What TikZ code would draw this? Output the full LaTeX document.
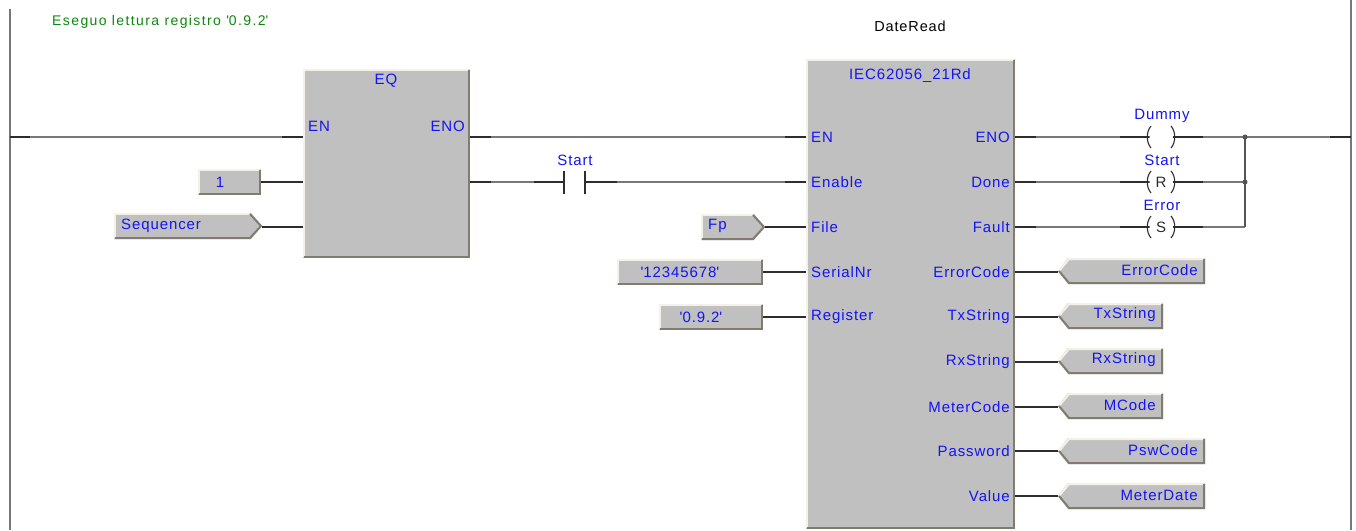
\documentclass[tikz,border=0pt]{standalone}
\usepackage{fontspec}
\setmainfont{Liberation Sans}
\newfontfamily\lblfont[LetterSpace=6]{Liberation Sans}
\newfontfamily\cmtfont[LetterSpace=10]{Liberation Sans}
\definecolor{blockgray}{RGB}{192,192,192}
\definecolor{hilite}{RGB}{244,242,232}
\definecolor{shadeclr}{RGB}{128,124,112}
\definecolor{wire}{RGB}{120,120,120}
\definecolor{wiredark}{RGB}{45,45,45}
\definecolor{lblue}{RGB}{20,20,245}
\definecolor{cmt}{RGB}{15,135,15}
\tikzset{x=1pt,y=-1pt,
 lab/.style={font=\lblfont\fontsize{15}{17}\selectfont,text=lblue,inner sep=0pt},
 cmtlab/.style={font=\cmtfont\fontsize{14}{16}\selectfont,text=cmt,inner sep=0pt,anchor=west},
 blk/.style={font=\lblfont\fontsize{15}{17}\selectfont,text=lblue,inner sep=0pt},
 wirel/.style={draw=wire,line width=1.4pt},
 stub/.style={draw=wiredark,line width=1.3pt},
 rail/.style={draw=wire,line width=1.4pt},
 coilarc/.style={draw=wiredark,line width=1.1pt},
 dotn/.style={circle,fill=wire!70!black,inner sep=0pt,minimum size=5pt},
 coilchar/.style={font=\lblfont\fontsize{15}{17}\selectfont,text=wiredark,inner sep=0pt},
}
\newcommand{\bevelbox}[4]{% x1 y1 x2 y2
 \fill[blockgray] (#1,#2) rectangle (#3,#4);
 \draw[hilite,line width=2pt] (#1+1,#4-1) -- (#1+1,#2+1) -- (#3-1,#2+1);
 \draw[shadeclr,line width=2pt] (#1+1,#4-1) -- (#3-1,#4-1) -- (#3-1,#2+1);
}
\newcommand{\invar}[3]{% x1 tipx yc, right-pointing
 \fill[blockgray] (#1,#3-13) -- (#2-11,#3-13) -- (#2,#3) -- (#2-11,#3+13) -- (#1,#3+13) -- cycle;
 \draw[hilite,line width=2pt] (#1+1,#3+12) -- (#1+1,#3-12) -- (#2-12,#3-12);
 \draw[shadeclr,line width=2pt] (#1+1,#3+12) -- (#2-12,#3+12) -- (#2-1,#3) -- (#2-12,#3-12);
}
\newcommand{\outvar}[3]{% tipx x2 yc, left-pointing
 \fill[blockgray] (#2,#3-13) -- (#1+10,#3-13) -- (#1,#3) -- (#1+10,#3+13) -- (#2,#3+13) -- cycle;
 \draw[hilite,line width=2pt] (#1+1,#3) -- (#1+11,#3-12) -- (#2-1,#3-12);
 \draw[shadeclr,line width=2pt] (#1+1,#3) -- (#1+11,#3+12) -- (#2-1,#3+12) -- (#2-1,#3-12);
}
\newcommand{\coilshape}[1]{% yc
 \draw[coilarc] (1151,#1-11) .. controls (1146,#1-5) and (1146,#1+5) .. (1151,#1+11);
 \draw[coilarc] (1171,#1-11) .. controls (1176,#1-5) and (1176,#1+5) .. (1171,#1+11);
}
\begin{document}
\begin{tikzpicture}
\useasboundingbox (0,0) rectangle (1356,530);
\fill[white] (0,0) rectangle (1356,530);
% rails
\coordinate (railLtop) at (10,9);
\coordinate (railLbot) at (10,530);
\coordinate (railRtop) at (1351,0);
\coordinate (railRbot) at (1351,530);
\draw[rail] (railLtop) -- (railLbot);
\draw[rail] (railRtop) -- (railRbot);
% blocks
\bevelbox{303}{69}{470}{258}
\bevelbox{806}{59}{1015}{529}
\coordinate (eqEN) at (303,137);
\coordinate (eqENO) at (470,137);
\coordinate (eqQ) at (470,182);
\coordinate (eqA) at (303,182);
\coordinate (eqB) at (303,227);
\node[blk] (eqt) at (386,81) {EQ};
\node[blk,anchor=west] (eqen) at (308,126) {EN};
\node[blk,anchor=east] (eqeno) at (465,126) {ENO};
\node[blk] (iect) at (910,76) {IEC62056\_21Rd};
\foreach \n/\t/\y in {a/EN/137,b/Enable/182,c/File/227,d/SerialNr/272,e/Register/317}
 \node[blk,anchor=west] (in\n) at (811,\y) {\t};
\foreach \n/\t/\y in {a/ENO/137,b/Done/182,c/Fault/227,d/ErrorCode/272,e/TxString/317,f/RxString/362,g/MeterCode/407,h/Password/451,i/Value/496}
 \node[blk,anchor=east] (out\n) at (1010,\y) {\t};
% input vars
\bevelbox{198}{169}{261}{195}
\node[blk] (one) at (220,182) {1};
\invar{114}{262}{226}
\node[blk,anchor=west] (seq) at (121,226) {Sequencer};
\invar{701}{765}{227}
\node[blk,anchor=west] (fp) at (708,226) {Fp};
\bevelbox{617}{259}{763}{285}
\node[blk] (ser) at (680,272) {\textquotesingle 12345678\textquotesingle};
\bevelbox{659}{304}{763}{330}
\node[blk] (regv) at (701,317) {\textquotesingle 0.9.2\textquotesingle};
% output vars
\outvar{1058}{1205}{271}
\node[blk,anchor=east] (o1) at (1198,270) {ErrorCode};
\outvar{1058}{1163}{316}
\node[blk,anchor=east] (o2) at (1156,315) {TxString};
\outvar{1058}{1163}{361}
\node[blk,anchor=east] (o3) at (1156,360) {RxString};
\outvar{1058}{1163}{406}
\node[blk,anchor=east] (o4) at (1156,405) {MCode};
\outvar{1058}{1205}{451}
\node[blk,anchor=east] (o5) at (1198,450) {PswCode};
\outvar{1058}{1205}{496}
\node[blk,anchor=east] (o6) at (1198,495) {MeterDate};
% texts
\node[cmtlab] (cmttext) at (52,22) {Eseguo lettura registro \textquotesingle 0.9.2\textquotesingle};
\node[font=\lblfont\fontsize{14.5}{16}\selectfont,text=black,inner sep=0pt] (title) at (910,26) {DateRead};
% wires
\draw[wirel] (railLtop |- eqEN) -- (eqEN);
\draw[stub] (10,137) -- (30,137) (282,137) -- (eqEN);
\draw[wirel] (eqENO) -- (806,137);
\draw[stub] (eqENO) -- (491,137) (785,137) -- (806,137);
\draw[wirel] (eqQ) -- (534,182);
\draw[stub] (eqQ) -- (491,182);
\draw[stub] (261,182) -- (eqA);
\draw[stub] (262,227) -- (eqB);
% contact
\coordinate (cL) at (564,182);
\coordinate (cR) at (585,182);
\draw[wirel] (534,182) -- (cL);
\draw[wirel] (cR) -- (806,182);
\draw[stub] (534,182) -- (cL) (cR) -- (617,182) (785,182) -- (806,182);
\draw[wiredark,line width=1.3pt] (564,170.5) -- (564,193.5) (585,170.5) -- (585,193.5);
\node[lab] (cstart) at (575,160) {Start};
% input stubs
\draw[stub] (765,227) -- (806,227);
\draw[stub] (763,272) -- (806,272);
\draw[stub] (763,317) -- (806,317);
% output stubs to vars
\foreach \y in {272,317,362,407,451,496} \draw[stub] (1015,\y) -- (1058,\y);
% coils
\foreach \y/\t in {137/{},182/R,227/S} {
 \draw[wirel] (1015,\y) -- (1245,\y);
 \draw[stub] (1015,\y) -- (1036,\y) (1120,\y) -- (1149,\y) (1173,\y) -- (1203,\y);
 \fill[white] (1149.5,\y-12) rectangle (1172.5,\y+12);
 \coilshape{\y}
 \node[coilchar] at (1161,\y) {\t};
}
\node[lab] (ldummy) at (1162,116) {Dummy};
\node[lab] (lstart) at (1162,160) {Start};
\node[lab] (lerror) at (1162,205) {Error};
\coordinate (j1) at (1245,137);
\coordinate (j2) at (1245,182);
\coordinate (j3) at (1245,227);
\draw[wirel,draw=wire!70!black] (j1) -- (j3);
\draw[wirel] (j1) -- (railRtop |- j1);
\draw[stub] (1330,137) -- (1351,137);
\node[dotn] at (j1) {};
\node[dotn] at (j2) {};
\end{tikzpicture}
\end{document}
